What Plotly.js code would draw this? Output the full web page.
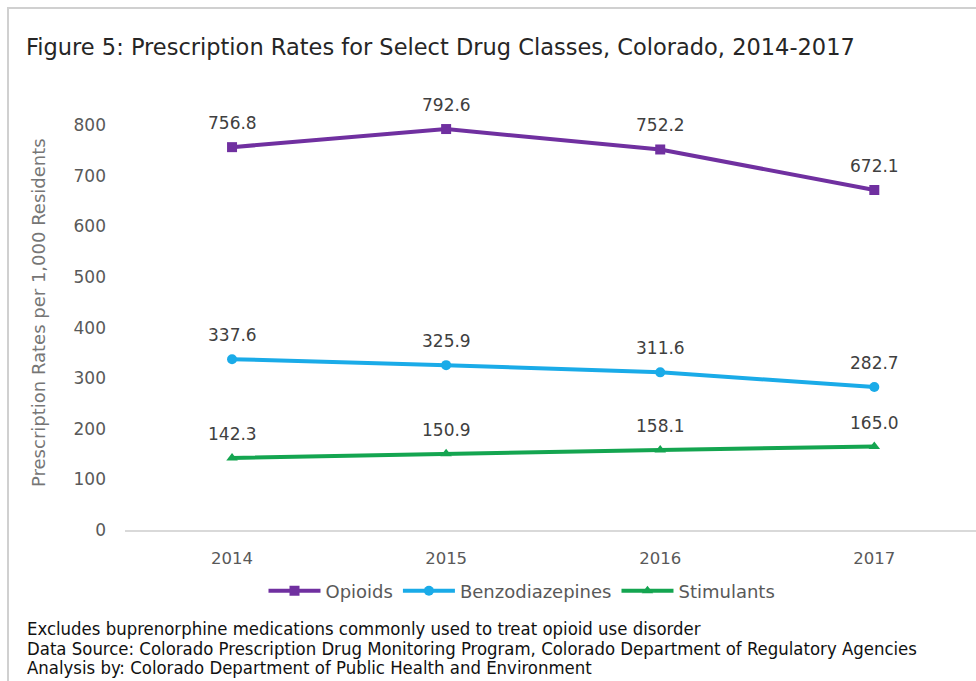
<!DOCTYPE html>
<html>
<head>
<meta charset="utf-8">
<script src="https://cdn.plot.ly/plotly-3.0.1.min.js"></script>
<style>html,body{margin:0;padding:0;background:#fff;}#chart{width:976px;height:681px;}</style>
</head>
<body>
<div id="chart"></div>
<script>
var years = ["2014", "2015", "2016", "2017"];
var opioids = [756.8, 792.6, 752.2, 672.1];
var benzodiazepines = [337.6, 325.9, 311.6, 282.7];
var stimulants = [142.3, 150.9, 158.1, 165.0];
var seriesNames = ["Opioids", "Benzodiazepines", "Stimulants"];
var yTicks = [0, 100, 200, 300, 400, 500, 600, 700, 800];
var titleText = "Figure 5: Prescription Rates for Select Drug Classes, Colorado, 2014-2017";
var yTitleText = "Prescription Rates per 1,000 Residents";
var footnotes = [
  "Excludes buprenorphine medications commonly used to treat opioid use disorder",
  "Data Source: Colorado Prescription Drug Monitoring Program, Colorado Department of Regulatory Agencies",
  "Analysis by: Colorado Department of Public Health and Environment"
];

var W = 976, H = 681;
var M = {l: 125, r: 0, t: 100, b: 151};
var pw = W - M.l - M.r, ph = H - M.t - M.b;
function px(x) { return (x - M.l) / pw; }
function py(y) { return (H - M.b - y) / ph; }

var colors = ["#7030A0", "#1AABE8", "#14A550"];
var symbols = ["square", "circle", "triangle-up"];
var allSeries = [opioids, benzodiazepines, stimulants];

var traces = allSeries.map(function (vals, i) {
  return {
    x: years, y: vals, name: seriesNames[i], type: "scatter", mode: "lines+markers",
    line: {color: colors[i], width: 4},
    marker: {symbol: symbols[i], size: 10, color: colors[i]},
    hoverinfo: "skip"
  };
});

var annotations = [];
allSeries.forEach(function (vals) {
  vals.forEach(function (v, j) {
    annotations.push({
      x: j, y: v, xref: "x", yref: "y", text: v.toFixed(1), showarrow: false,
      yshift: 24, font: {family: "DejaVu Sans", size: 17, color: "#404040"}
    });
  });
});
annotations.push({
  x: px(38), y: py(313), xref: "paper", yref: "paper", text: yTitleText, textangle: -90,
  showarrow: false, xanchor: "center", yanchor: "middle",
  font: {family: "DejaVu Sans", size: 18, color: "#767676"}
});
var fnY = [628, 648, 667];
footnotes.forEach(function (t, i) {
  annotations.push({
    x: px(25), y: py(fnY[i]), xref: "paper", yref: "paper", text: t, showarrow: false,
    xanchor: "left", yanchor: "middle",
    font: {family: "Liberation Sans Narrow, DejaVu Sans Condensed, sans-serif", size: 18.4, color: "#111"}
  });
});

var layout = {
  width: W, height: H,
  margin: M,
  paper_bgcolor: "#fff", plot_bgcolor: "#fff",
  showlegend: true,
  title: {
    text: titleText, x: 26 / W, xref: "container", xanchor: "left", y: 1 - 47 / H, yref: "container", yanchor: "middle",
    font: {family: "DejaVu Sans", size: 22.5, color: "#262626"}
  },
  xaxis: {
    type: "category", range: [-0.5, 3.475], showgrid: false, zeroline: false,
    showline: true, linecolor: "#d9d9d9", linewidth: 2, ticks: "",
    ticklabelstandoff: 12,
    tickfont: {family: "DejaVu Sans", size: 16.5, color: "#595959"}
  },
  yaxis: {
    range: [0, 850], tickvals: yTicks, showgrid: false, zeroline: false, showline: false,
    ticks: "", ticklabelstandoff: 18,
    tickfont: {family: "DejaVu Sans", size: 17, color: "#595959"}
  },
  legend: {
    orientation: "h", x: px(522), xanchor: "center", y: py(591), yanchor: "middle",
    font: {family: "DejaVu Sans", size: 18, color: "#595959"},
    itemwidth: 52, tracegroupgap: 0, bgcolor: "rgba(0,0,0,0)"
  },
  annotations: annotations,
  shapes: [{
    type: "rect", xref: "paper", yref: "paper",
    x0: px(8), x1: px(990), y0: py(700), y1: py(8),
    line: {color: "#d0d0d0", width: 2}, fillcolor: "rgba(0,0,0,0)", layer: "below"
  }]
};

Plotly.newPlot("chart", traces, layout, {staticPlot: true, displayModeBar: false});
</script>
</body>
</html>
